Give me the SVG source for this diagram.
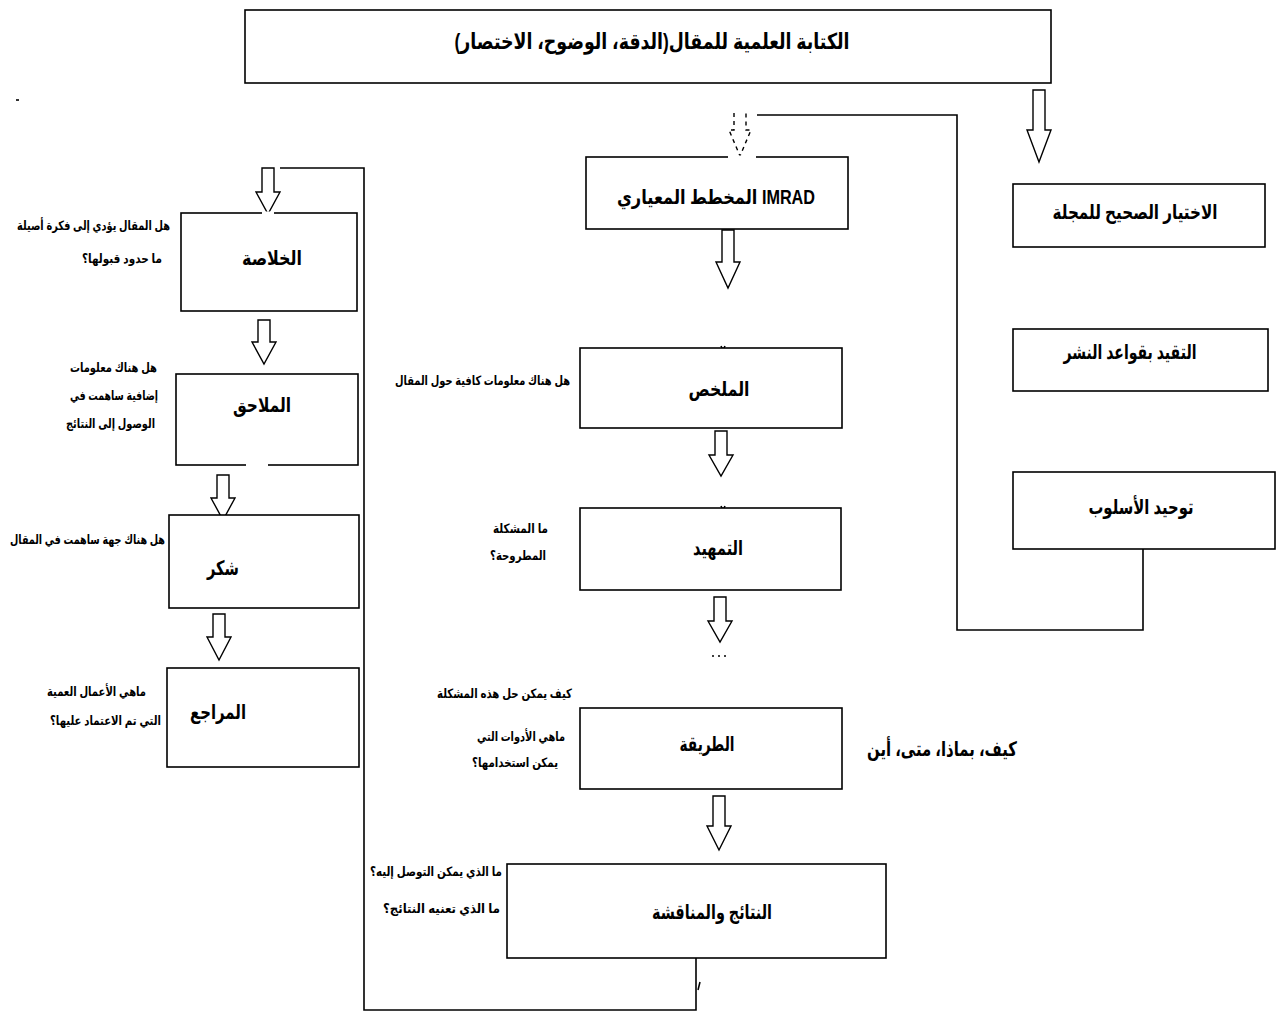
<svg xmlns="http://www.w3.org/2000/svg" width="1276" height="1012" viewBox="0 0 1276 1012">
<style>
.box{fill:#fff;stroke:#000;stroke-width:1.6}
.ln{fill:none;stroke:#000;stroke-width:1.6}
.ar{fill:#fff;stroke:#000;stroke-width:1.4}
.ard{fill:none;stroke:#000;stroke-width:1.4;stroke-dasharray:4 4}
text{font-family:"Liberation Sans","DejaVu Sans",sans-serif;font-weight:bold;fill:#000;direction:rtl;text-anchor:middle}
.t{font-size:20px}
.tt{font-size:22px}
.q{font-size:13px}
</style>
<rect width="1276" height="1012" fill="#fff"/>
<g id="connectors">
<polyline class="ln" points="1143,549 1143,630 957,630 957,115 757,115"/>
<polyline class="ln" points="696,958 696,1010 364,1010 364,168 280,168"/>
<path class="ard" d="M734,113 V130 H729 L740,156 L751,130 H746 V113"/>
<path class="ar" d="M1033,90 V130 H1027 L1039,162 L1051,130 H1045 V90 Z"/>
<path class="ar" d="M722,230 V262 H716 L728,288 L740,262 H734 V230 Z"/>
<path class="ar" d="M715,431 V455 H709 L721,476 L733,455 H727 V431 Z"/>
<path class="ar" d="M714,597 V621 H708 L720,642 L732,621 H726 V597 Z"/>
<path class="ar" d="M713,796 V826 H707 L719,850 L731,826 H725 V796 Z"/>
<path class="ar" d="M262,168 V192 H256 L268,214 L280,192 H274 V168 Z"/>
<path class="ar" d="M258,320 V342 H252 L264,364 L276,342 H270 V320 Z"/>
<path class="ar" d="M217,475 V498 H211 L223,520 L235,498 H229 V475 Z"/>
<path class="ar" d="M213,614 V637 H207 L219,660 L231,637 H225 V614 Z"/>
<path class="ln" d="M721,346 l2,4 l2,-4 M721,506 l2,4 l2,-4" stroke-width="1"/>
<path class="ln" d="M700,982 l-2,8" stroke-width="1"/>
<path class="ln" d="M712,656 h2 M718,656 h2 M724,656 h2" stroke-width="1"/>
<path class="ln" d="M16,100 h3" stroke-width="1.5"/>
</g>
<g id="title">
<rect class="box" x="245" y="10" width="806" height="73" stroke-width="2"/>
<text class="tt" x="652" y="49" textLength="395" lengthAdjust="spacingAndGlyphs">الكتابة العلمية للمقال(الدقة، الوضوح، الاختصار)</text>
</g>
<g id="journal">
<rect class="box" x="1013" y="184" width="252" height="63"/>
<text class="t" x="1135" y="219" textLength="165" lengthAdjust="spacingAndGlyphs">الاختيار الصحيح للمجلة</text>
</g>
<g id="rules">
<rect class="box" x="1013" y="329" width="255" height="62"/>
<text class="t" x="1130" y="359" textLength="133" lengthAdjust="spacingAndGlyphs">التقيد بقواعد النشر</text>
</g>
<g id="style">
<rect class="box" x="1013" y="472" width="262" height="77"/>
<text class="t" x="1141" y="514" textLength="105" lengthAdjust="spacingAndGlyphs">توحيد الأسلوب</text>
</g>
<g id="imrad">
<rect class="box" x="586" y="157" width="262" height="72"/>
<line x1="728" y1="157" x2="756" y2="157" stroke="#fff" stroke-width="3"/>
<text class="t" x="716" y="204" textLength="198" lengthAdjust="spacingAndGlyphs">IMRAD المخطط المعياري</text>
</g>
<g id="abstract">
<rect class="box" x="580" y="348" width="262" height="80"/>
<text class="t" x="719" y="396" textLength="61" lengthAdjust="spacingAndGlyphs">الملخص</text>
<text class="q" x="482.5" y="385" textLength="175" lengthAdjust="spacingAndGlyphs">هل هناك معلومات كافية حول المقال</text>
</g>
<g id="intro">
<rect class="box" x="580" y="508" width="261" height="82"/>
<text class="t" x="718" y="555" textLength="50" lengthAdjust="spacingAndGlyphs">التمهيد</text>
<text class="q" x="520.5" y="533" textLength="55" lengthAdjust="spacingAndGlyphs">ما المشكلة</text>
<text class="q" x="518" y="560" textLength="56" lengthAdjust="spacingAndGlyphs">المطروحة؟</text>
</g>
<g id="method">
<rect class="box" x="580" y="708" width="262" height="81"/>
<text class="t" x="707" y="751" textLength="55" lengthAdjust="spacingAndGlyphs">الطريقة</text>
<text class="q" x="504.5" y="698" textLength="135" lengthAdjust="spacingAndGlyphs">كيف يمكن حل هذه المشكلة</text>
<text class="q" x="521" y="741" textLength="88" lengthAdjust="spacingAndGlyphs">ماهي الأدوات التي</text>
<text class="q" x="515" y="767" textLength="86" lengthAdjust="spacingAndGlyphs">يمكن استخدامها؟</text>
<text class="t" x="942" y="756" textLength="150" lengthAdjust="spacingAndGlyphs">كيف، بماذا، متى، أين</text>
</g>
<g id="results">
<rect class="box" x="507" y="864" width="379" height="94"/>
<text class="t" x="712" y="919" textLength="120" lengthAdjust="spacingAndGlyphs">النتائج والمناقشة</text>
<text class="q" x="436" y="876" textLength="132" lengthAdjust="spacingAndGlyphs">ما الذي يمكن التوصل إليه؟</text>
<text class="q" x="441.5" y="913" textLength="117" lengthAdjust="spacingAndGlyphs">ما الذي تعنيه النتائج؟</text>
</g>
<g id="conclusion">
<rect class="box" x="181" y="213" width="176" height="98"/>
<line x1="262" y1="213" x2="274" y2="213" stroke="#fff" stroke-width="3"/>
<text class="t" x="272" y="265" textLength="60" lengthAdjust="spacingAndGlyphs">الخلاصة</text>
<text class="q" x="93.5" y="230" textLength="153" lengthAdjust="spacingAndGlyphs">هل المقال يؤدي إلى فكرة أصيلة</text>
<text class="q" x="122" y="263" textLength="80" lengthAdjust="spacingAndGlyphs">ما حدود قبولها؟</text>
</g>
<g id="appendix">
<rect class="box" x="176" y="374" width="182" height="91"/>
<line x1="246" y1="465" x2="268" y2="465" stroke="#fff" stroke-width="3"/>
<text class="t" x="262" y="412" textLength="58" lengthAdjust="spacingAndGlyphs">الملاحق</text>
<text class="q" x="113.5" y="372" textLength="87" lengthAdjust="spacingAndGlyphs">هل هناك معلومات</text>
<text class="q" x="114" y="400" textLength="88" lengthAdjust="spacingAndGlyphs">إضافية ساهمت في</text>
<text class="q" x="110.5" y="428" textLength="89" lengthAdjust="spacingAndGlyphs">الوصول إلى النتائج</text>
</g>
<g id="thanks">
<rect class="box" x="169" y="515" width="190" height="93"/>
<text class="t" x="223" y="575" textLength="32" lengthAdjust="spacingAndGlyphs">شكر</text>
<text class="q" x="87.5" y="544" textLength="155" lengthAdjust="spacingAndGlyphs">هل هناك جهة ساهمت في المقال</text>
</g>
<g id="references">
<rect class="box" x="167" y="668" width="192" height="99"/>
<text class="t" x="218" y="719" textLength="56" lengthAdjust="spacingAndGlyphs">المراجع</text>
<text class="q" x="96.5" y="696" textLength="99" lengthAdjust="spacingAndGlyphs">ماهي الأعمال العمية</text>
<text class="q" x="105.5" y="725" textLength="111" lengthAdjust="spacingAndGlyphs">التي تم الاعتماد عليها؟</text>
</g>
</svg>
